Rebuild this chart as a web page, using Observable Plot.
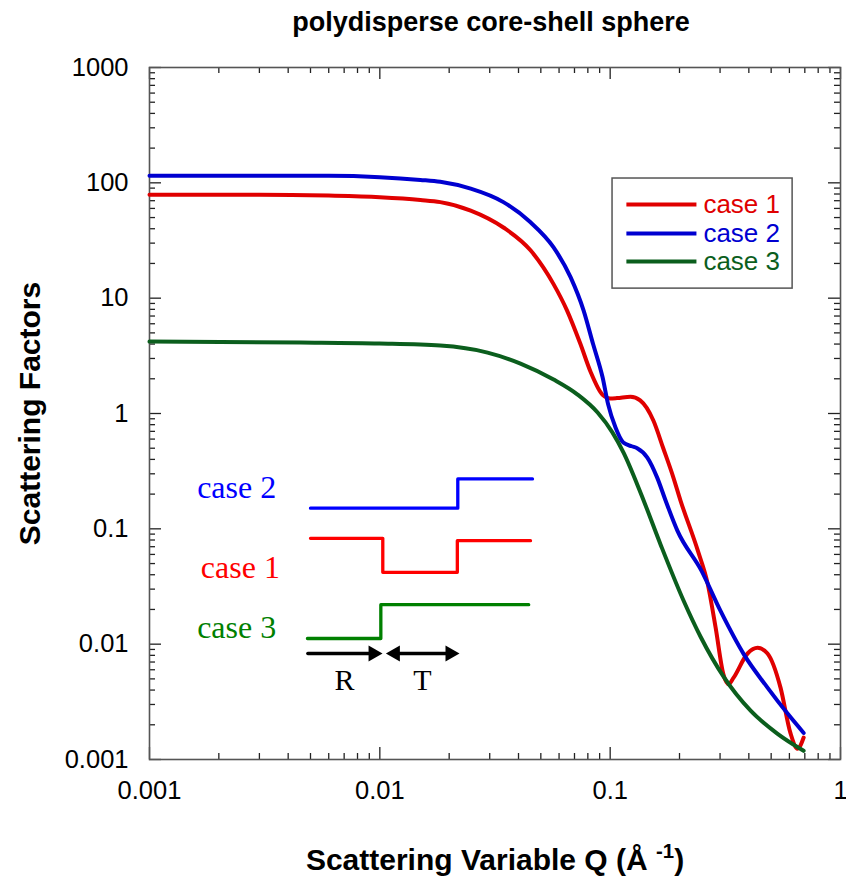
<!DOCTYPE html>
<html><head><meta charset="utf-8">
<script src="https://cdn.jsdelivr.net/npm/d3@7"></script>
<script src="https://cdn.jsdelivr.net/npm/@observablehq/plot@0.6"></script>
<style>body{margin:0;background:#fff} #chart{width:846px;height:878px}</style>
</head><body><div id="chart"></div>
<script>
// ---- data ----
const case1Q = [0.001,0.003,0.006,0.01,0.015,0.0183,0.0248,0.0344,0.0451,0.0567,0.065,0.0743,0.0822,0.0927,0.1,0.107,0.1226,0.135,0.154,0.17,0.188,0.202,0.24,0.265,0.287,0.31,0.327,0.343,0.395,0.437,0.482,0.549,0.606,0.651,0.692];
const case1V = [79,79,77.5,75,71,68,57.5,41,26,13.3,7.8,4.0,2.3,1.45,1.35,1.36,1.4,1.3,0.87,0.5,0.28,0.176,0.065,0.0335,0.0139,0.0055,0.0045,0.0051,0.0083,0.0093,0.0083,0.0042,0.0017,0.00124,0.00155];
const case2Q = [0.001,0.003,0.006,0.01,0.015,0.0183,0.0248,0.0344,0.0451,0.0567,0.0673,0.0767,0.0843,0.0927,0.098,0.1055,0.114,0.124,0.131,0.145,0.16,0.174,0.196,0.249,0.301,0.38,0.482,0.589,0.692];
const case2V = [115,115,115,112,106,102,89,68,45.5,27.7,15.2,7.8,4.0,2.06,1.2,0.755,0.56,0.52,0.5,0.415,0.278,0.176,0.096,0.0434,0.0195,0.0082,0.0042,0.0025,0.0017];
const case3Q = [0.001,0.00453,0.00997,0.0183,0.02935,0.0408,0.0568,0.0722,0.0882,0.1024,0.1143,0.1355,0.1656,0.2084,0.2469,0.3107,0.4071,0.5332,0.6917];
const case3V = [4.2,4.12,4.04,3.88,3.37,2.71,1.97,1.46,1.02,0.683,0.458,0.206,0.0729,0.0238,0.0116,0.00523,0.00265,0.00167,0.00119];

const seriesNames = ["case 1","case 2","case 3"];
const seriesColors = ["#e00000","#0000d0","#0b5e1d"];

const xTickValues = [0.001,0.01,0.1,1];
const yTickValues = [0.001,0.01,0.1,1,10,100,1000];
const tickLabel = d => String(d);

// inset sketch (profiles) in data units
const insetCase2Q = [0.005,0.0218,0.046];
const insetCase2V = [0.151,0.271,0.271];
const insetCase1Q = [0.005,0.0103,0.0217,0.0451];
const insetCase1V = [0.0828,0.042,0.079,0.079];
const insetCase3Q = [0.00485,0.0101,0.0443];
const insetCase3V = [0.0112,0.022,0.022];
const insetLabelQ = [0.00239,0.00248,0.00239];
const insetLabelV = [0.228,0.046,0.0139];
const insetColors = ["#0000ff","#ff0000","#008000"];
const insetLabels = ["case 2","case 1","case 3"];
const arrowV = 0.0083;
const arrowR = [0.00487,0.01024];
const arrowT = [0.01066,0.0221];
const letterV = 0.00482;
const letterQ = [0.00703,0.01532];
const letters = ["R","T"];

// legend placement in data units
const legendBoxQ = [0.1024,0.6196];
const legendBoxV = [12.1,109];
const legendLineQ = [0.1176,0.2369];
const legendRowV = [64.8,36.3,20.8];
const legendTextQ = 0.254;

const title = "polydisperse core-shell sphere";
const xTitle = "Scattering Variable Q (Å-1)";
const yTitle = "Scattering Factors";

// ---- build tables ----
const toRows = (qs, vs) => qs.map((q,i) => ({q, v: vs[i]}));
const curves = [toRows(case1Q,case1V), toRows(case2Q,case2V), toRows(case3Q,case3V)];
const insets = [toRows(insetCase2Q,insetCase2V), toRows(insetCase1Q,insetCase1V), toRows(insetCase3Q,insetCase3V)];

const W = 846, H = 878, mL = 149, mR = 6, mT = 67, mB = 119;
const pw = W - mL - mR, ph = H - mT - mB;
const minorX = [], minorY = [];
for (const d of [0.001,0.01,0.1]) for (let k = 2; k <= 9; k++) minorX.push(+(k*d).toPrecision(3));
for (const d of [0.001,0.01,0.1,1,10,100]) for (let k = 2; k <= 9; k++) minorY.push(+(k*d).toPrecision(3));
const MAJ = 12, MIN = 6, tickColor = "#222";

const marks = [];
// ticks on all four sides, pointing inward
marks.push(Plot.tickY(yTickValues, {y: d=>d, insetRight: pw-MAJ, stroke: tickColor, strokeWidth: 1.3}));
marks.push(Plot.tickY(minorY, {y: d=>d, insetRight: pw-MIN, stroke: tickColor, strokeWidth: 1.3}));
marks.push(Plot.tickY(yTickValues, {y: d=>d, insetLeft: pw-MAJ, stroke: tickColor, strokeWidth: 1.3}));
marks.push(Plot.tickY(minorY, {y: d=>d, insetLeft: pw-MIN, stroke: tickColor, strokeWidth: 1.3}));
marks.push(Plot.tickX(xTickValues, {x: d=>d, insetTop: ph-MAJ, stroke: tickColor, strokeWidth: 1.3}));
marks.push(Plot.tickX(minorX, {x: d=>d, insetTop: ph-MIN, stroke: tickColor, strokeWidth: 1.3}));
marks.push(Plot.tickX(xTickValues, {x: d=>d, insetBottom: ph-MAJ, stroke: tickColor, strokeWidth: 1.3}));
marks.push(Plot.tickX(minorX, {x: d=>d, insetBottom: ph-MIN, stroke: tickColor, strokeWidth: 1.3}));
marks.push(Plot.frame({stroke: "#555", strokeWidth: 1.6}));

// tick labels
marks.push(Plot.text(yTickValues, {y: d=>d, text: tickLabel, frameAnchor: "left", textAnchor: "end", dx: -21, fontSize: 25.5, fill: "#000"}));
marks.push(Plot.text(xTickValues, {x: d=>d, text: tickLabel, frameAnchor: "bottom", lineAnchor: "middle", dy: 31, fontSize: 25.5, fill: "#000"}));

// titles
marks.push(Plot.text([title], {text: d=>d, frameAnchor: "top", textAnchor: "middle", lineAnchor: "middle", dy: -45, dx: -4, fontSize: 27, fontWeight: "bold"}));
marks.push(Plot.text([xTitle], {text: d=>d, frameAnchor: "bottom", textAnchor: "middle", lineAnchor: "middle", dy: 101, fontSize: 30, fontWeight: "bold"}));
marks.push(Plot.text([yTitle], {text: d=>d, frameAnchor: "left", textAnchor: "middle", lineAnchor: "middle", dx: -119, rotate: -90, fontSize: 30, fontWeight: "bold"}));

// curves
curves.forEach((rows, i) => marks.push(Plot.line(rows, {x: "q", y: "v", stroke: seriesColors[i], strokeWidth: 4, curve: "monotone-x"})));

// inset sketch
insets.forEach((rows, i) => marks.push(Plot.line(rows, {x: "q", y: "v", stroke: insetColors[i], strokeWidth: 3.3, curve: "step-after"})));
marks.push(Plot.text(insetLabels, {x: (d,i)=>insetLabelQ[i], y: (d,i)=>insetLabelV[i], text: d=>d, fill: (d,i)=>insetColors[i], fontSize: 32, fontFamily: "Liberation Serif, Times New Roman, serif", lineAnchor: "middle"}));
marks.push(Plot.arrow([0], {x1: arrowR[0], x2: arrowR[1], y1: arrowV, y2: arrowV, headLength: 0, insetEnd: 10, stroke: "#000", strokeWidth: 3.5}));
marks.push(Plot.arrow([0], {x1: arrowT[0], x2: arrowT[1], y1: arrowV, y2: arrowV, headLength: 0, insetStart: 10, insetEnd: 10, stroke: "#000", strokeWidth: 3.5}));
marks.push(Plot.dot([arrowR[1], arrowT[1]], {x: d=>d, y: arrowV, symbol: "triangle", r: 6, fill: "#000", rotate: 90, dx: -9}));
marks.push(Plot.dot([arrowT[0]], {x: d=>d, y: arrowV, symbol: "triangle", r: 6, fill: "#000", rotate: -90, dx: 9}));
marks.push(Plot.text(letters, {x: (d,i)=>letterQ[i], y: letterV, text: d=>d, fill: "#000", fontSize: 30, fontFamily: "Liberation Serif, Times New Roman, serif", lineAnchor: "middle"}));

// legend
marks.push(Plot.rect([0], {x1: legendBoxQ[0], x2: legendBoxQ[1], y1: legendBoxV[0], y2: legendBoxV[1], fill: "#fff", stroke: "#555", strokeWidth: 1.5}));
marks.push(Plot.link(seriesNames, {x1: legendLineQ[0], x2: legendLineQ[1], y1: (d,i)=>legendRowV[i], y2: (d,i)=>legendRowV[i], stroke: (d,i)=>seriesColors[i], strokeWidth: 4}));
marks.push(Plot.text(seriesNames, {x: legendTextQ, y: (d,i)=>legendRowV[i], text: d=>d, fill: (d,i)=>seriesColors[i], textAnchor: "start", lineAnchor: "middle", fontSize: 26}));

const chart = Plot.plot({
  width: W, height: H,
  marginLeft: mL, marginRight: mR, marginTop: mT, marginBottom: mB,
  x: {type: "log", domain: [0.001, 1], axis: null},
  y: {type: "log", domain: [0.001, 1000], axis: null},
  style: {fontFamily: "Liberation Sans, Arial, Helvetica, sans-serif", background: "#fff", overflow: "visible"},
  marks
});

// superscript in x-axis title
d3.select(chart).selectAll("text").each(function() {
  if (this.textContent === xTitle) {
    const t = d3.select(this);
    t.selectAll("*").remove();
    t.text(null);
    t.append("tspan").text("Scattering Variable Q (Å ");
    t.append("tspan").attr("font-size", "0.68em").attr("dy", "-0.6em").text("-1");
    t.append("tspan").attr("dy", "0.41em").text(")");
  }
});
document.getElementById("chart").appendChild(chart);
</script>
</body></html>
